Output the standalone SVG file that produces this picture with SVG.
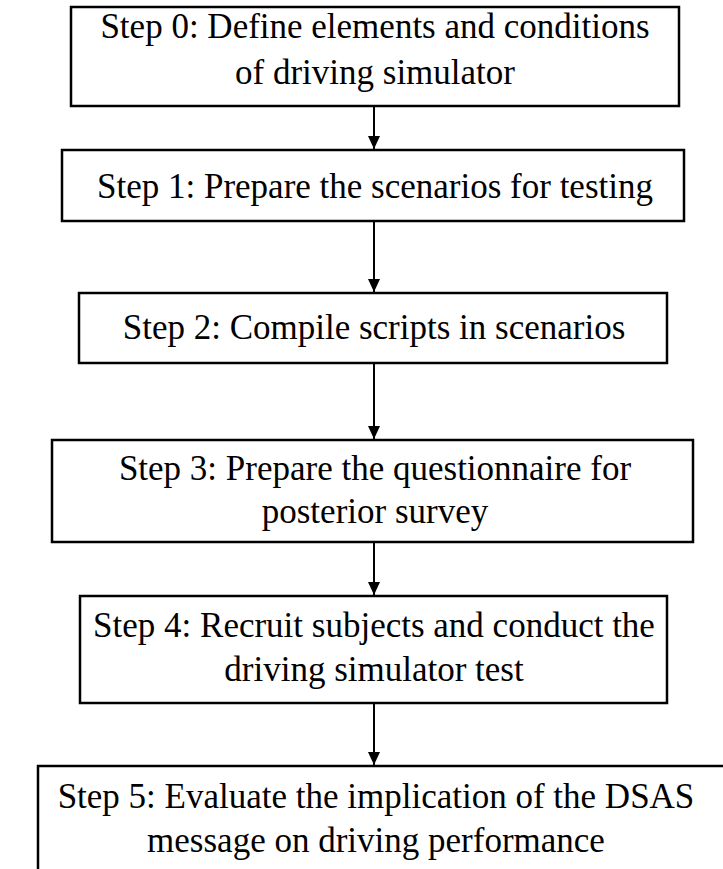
<svg xmlns="http://www.w3.org/2000/svg" width="723" height="869" viewBox="0 0 723 869">
<defs>
<style>
.box{fill:#fff;stroke:#000;stroke-width:2.5}
.t{font-family:"Liberation Serif","Times New Roman",serif;font-size:35px;fill:#000;text-anchor:middle}
.c{stroke:#000;stroke-width:2;fill:none}
</style>
<marker id="ah" markerWidth="13" markerHeight="12" refX="13" refY="6" orient="auto" markerUnits="userSpaceOnUse" viewBox="0 0 13 12">
<path d="M0,0 L13,6 L0,12 Z" fill="#000"/>
</marker>
</defs>
<rect width="723" height="869" fill="#fff"/>
<g id="connectors">
<path class="c" d="M374,106 V149" marker-end="url(#ah)"/>
<path class="c" d="M374,221 V292" marker-end="url(#ah)"/>
<path class="c" d="M374,364 V439" marker-end="url(#ah)"/>
<path class="c" d="M374,543 V595" marker-end="url(#ah)"/>
<path class="c" d="M374,704 V765" marker-end="url(#ah)"/>
</g>
<g id="step0">
<rect class="box" x="71" y="7" width="608" height="99"/>
<text class="t" x="375" y="38">Step 0: Define elements and conditions</text>
<text class="t" x="375" y="84">of driving simulator</text>
</g>
<g id="step1">
<rect class="box" x="62" y="150" width="622" height="71"/>
<text class="t" x="375" y="198">Step 1: Prepare the scenarios for testing</text>
</g>
<g id="step2">
<rect class="box" x="79" y="293" width="588" height="70"/>
<text class="t" x="374" y="339">Step 2: Compile scripts in scenarios</text>
</g>
<g id="step3">
<rect class="box" x="52" y="440" width="641" height="102"/>
<text class="t" x="375" y="480">Step 3: Prepare the questionnaire for</text>
<text class="t" x="375" y="523">posterior survey</text>
</g>
<g id="step4">
<rect class="box" x="80" y="596" width="587" height="107"/>
<text class="t" x="374" y="637">Step 4: Recruit subjects and conduct the</text>
<text class="t" x="374" y="681">driving simulator test</text>
</g>
<g id="step5">
<rect class="box" x="38" y="766" width="688" height="120"/>
<text class="t" x="376" y="808">Step 5: Evaluate the implication of the DSAS</text>
<text class="t" x="376" y="852">message on driving performance</text>
</g>
</svg>
